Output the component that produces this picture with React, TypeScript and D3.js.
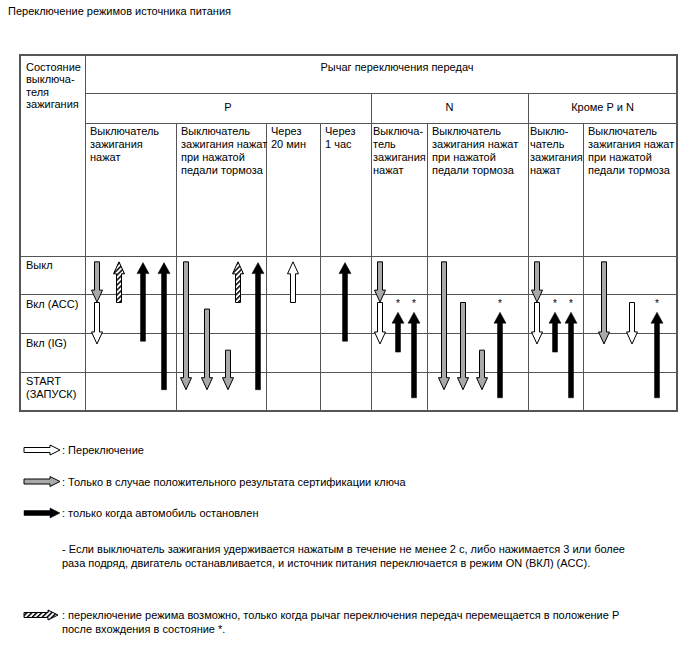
import React from "react";
import * as d3 from "d3";

const title = "Переключение режимов источника питания";
const cornerHeader = ["Состояние", "выключа-", "теля", "зажигания"];
const topHeader = "Рычаг переключения передач";
const groupHeaders = [
  { label: "Р", from: 0, to: 4 },
  { label: "N", from: 4, to: 6 },
  { label: "Кроме P и N", from: 6, to: 8 },
];
const subHeaders = [
  ["Выключатель", "зажигания", "нажат"],
  ["Выключатель", "зажигания нажат", "при нажатой", "педали тормоза"],
  ["Через", "20 мин"],
  ["Через", "1 час"],
  ["Выключа-", "тель", "зажигания", "нажат"],
  ["Выключатель", "зажигания нажат", "при нажатой", "педали тормоза"],
  ["Выклю-", "чатель", "зажигания", "нажат"],
  ["Выключатель", "зажигания нажат", "при нажатой", "педали тормоза"],
];
const rowLabels = [["Выкл"], ["Вкл (ACC)"], ["Вкл (IG)"], ["START", "(ЗАПУСК)"]];
// column widths (relative units)
const colWidths = [91, 90, 54, 51, 56, 101, 55, 94];

// arrows: col, offset within column, from (row units), to (row units), kind
type Kind = "white" | "gray" | "black" | "hatch";
const arrows: { col: number; off: number; from: number; to: number; kind: Kind; star?: boolean }[] = [
  { col: 0, off: 12, from: 0.15, to: 1.19, kind: "gray" },
  { col: 0, off: 12, from: 1.2, to: 2.27, kind: "white" },
  { col: 0, off: 34, from: 1.2, to: 0.15, kind: "hatch" },
  { col: 0, off: 58, from: 2.2, to: 0.17, kind: "black" },
  { col: 0, off: 79, from: 3.45, to: 0.17, kind: "black" },
  { col: 1, off: 10, from: 0.15, to: 3.45, kind: "gray" },
  { col: 1, off: 31, from: 1.37, to: 3.45, kind: "gray" },
  { col: 1, off: 52, from: 2.43, to: 3.45, kind: "gray" },
  { col: 1, off: 62, from: 1.2, to: 0.15, kind: "hatch" },
  { col: 1, off: 82, from: 3.45, to: 0.17, kind: "black" },
  { col: 2, off: 27, from: 1.2, to: 0.15, kind: "white" },
  { col: 3, off: 25, from: 2.2, to: 0.17, kind: "black" },
  { col: 4, off: 9, from: 0.15, to: 1.19, kind: "gray" },
  { col: 4, off: 9, from: 1.2, to: 2.27, kind: "white" },
  { col: 4, off: 27, from: 2.48, to: 1.45, kind: "black", star: true },
  { col: 4, off: 43, from: 3.66, to: 1.45, kind: "black", star: true },
  { col: 5, off: 17, from: 0.15, to: 3.45, kind: "gray" },
  { col: 5, off: 36, from: 1.2, to: 3.45, kind: "gray" },
  { col: 5, off: 55, from: 2.43, to: 3.45, kind: "gray" },
  { col: 5, off: 73, from: 3.66, to: 1.45, kind: "black", star: true },
  { col: 6, off: 9, from: 0.15, to: 1.19, kind: "gray" },
  { col: 6, off: 9, from: 1.2, to: 2.27, kind: "white" },
  { col: 6, off: 27, from: 2.48, to: 1.45, kind: "black", star: true },
  { col: 6, off: 43, from: 3.66, to: 1.45, kind: "black", star: true },
  { col: 7, off: 21, from: 0.15, to: 2.27, kind: "gray" },
  { col: 7, off: 49, from: 1.2, to: 2.27, kind: "white" },
  { col: 7, off: 74, from: 3.66, to: 1.45, kind: "black", star: true },
];

const legend: { kind: Kind; lines: string[] }[] = [
  { kind: "white", lines: [": Переключение"] },
  { kind: "gray", lines: [": Только в случае положительного результата сертификации ключа"] },
  { kind: "black", lines: [": только когда автомобиль остановлен"] },
];
const note = [
  "- Если выключатель зажигания удерживается нажатым в течение не менее 2 с, либо нажимается 3 или более",
  "раза подряд, двигатель останавливается, и источник питания переключается в режим ON (ВКЛ) (ACC).",
];
const hatchLegend = [
  ": переключение режима возможно, только когда рычаг переключения передач перемещается в положение P",
  "после вхождения в состояние *.",
];

const W = 688;
const H = 658;
const FONT = "'Liberation Sans', Arial, sans-serif";

const tableLeft = 20;
const firstColRight = 85;
const tableRight = 677;
const tableTop = 55;
const lineTop = 93;
const lineGroup = 123;
const rowsTop = 256;
const tableBottom = 411;

function colorOf(kind: Kind) {
  if (kind === "gray") return "#a9a9a9";
  if (kind === "black") return "#000";
  if (kind === "hatch") return "url(#hatch)";
  return "#fff";
}

function vArrow(x: number, y0: number, y1: number, kind: Kind) {
  const black = kind === "black";
  const sw = 5;
  const hw = black ? 12 : 11;
  const hl = black ? 11 : 12;
  const dir = Math.sign(y1 - y0);
  const hb = y1 - dir * hl;
  const pts: [number, number][] = [
    [x - sw / 2, y0],
    [x + sw / 2, y0],
    [x + sw / 2, hb],
    [x + hw / 2, hb],
    [x, y1],
    [x - hw / 2, hb],
    [x - sw / 2, hb],
  ];
  return d3.line()(pts) + "Z";
}

function hArrow(x0: number, x1: number, y: number) {
  const sh = 5;
  const hw = 10;
  const hl = 10;
  const hb = x1 - hl;
  const pts: [number, number][] = [
    [x0, y - sh / 2],
    [hb, y - sh / 2],
    [hb, y - hw / 2],
    [x1, y],
    [hb, y + hw / 2],
    [hb, y + sh / 2],
    [x0, y + sh / 2],
  ];
  return d3.line()(pts) + "Z";
}

export default function App() {
  const edges = [firstColRight];
  colWidths.forEach((w) => edges.push(edges[edges.length - 1] + w));
  const colX = (i: number) => edges[i];
  const y = d3.scaleLinear().domain([0, 4]).range([rowsTop, tableBottom]);
  const lineColor = "#555";

  return (
    <svg
      width={W}
      height={H}
      style={{ position: "absolute", left: 0, top: 0, background: "#fff" }}
      fontFamily={FONT}
    >
      <defs>
        <pattern id="hatch" patternUnits="userSpaceOnUse" width="3.5" height="3.5" patternTransform="rotate(-45)">
          <rect width="3.5" height="3.5" fill="#fff" />
          <rect width="3.5" height="1.5" fill="#000" />
        </pattern>
      </defs>
      <rect x={0} y={0} width={W} height={H} fill="#fff" />
      <text x={8} y={15} fontSize={11}>
        {title}
      </text>

      {/* table grid */}
      <g stroke={lineColor} strokeWidth={1} shapeRendering="crispEdges">
        <rect x={tableLeft} y={tableTop} width={tableRight - tableLeft} height={tableBottom - tableTop} fill="none" strokeWidth={1.5} />
        <line x1={firstColRight} x2={firstColRight} y1={tableTop} y2={tableBottom} />
        <line x1={firstColRight} x2={tableRight} y1={lineTop} y2={lineTop} />
        <line x1={firstColRight} x2={tableRight} y1={lineGroup} y2={lineGroup} />
        {groupHeaders.slice(1).map((g) => (
          <line key={g.label} x1={colX(g.from)} x2={colX(g.from)} y1={lineTop} y2={tableBottom} />
        ))}
        {edges.slice(1, -1).map((e, i) =>
          groupHeaders.some((g) => g.from === i + 1) ? null : (
            <line key={i} x1={e} x2={e} y1={lineGroup} y2={tableBottom} />
          )
        )}
        {[0, 1, 2, 3].map((r) => (
          <line key={r} x1={tableLeft} x2={tableRight} y1={y(r)} y2={y(r)} />
        ))}
      </g>

      {/* header texts */}
      <g fontSize={11} fill="#000">
        {cornerHeader.map((t, i) => (
          <text key={i} x={26} y={71 + i * 12.3}>
            {t}
          </text>
        ))}
        <text x={397} y={71} textAnchor="middle">
          {topHeader}
        </text>
        {groupHeaders.map((g) => (
          <text key={g.label} x={(colX(g.from) + colX(g.to)) / 2} y={111} textAnchor="middle">
            {g.label}
          </text>
        ))}
        {subHeaders.map((lines, c) =>
          lines.map((t, i) => (
            <text key={c + "-" + i} x={colX(c) + (c === 4 || c === 6 ? 2 : 5)} y={135 + i * 13}>
              {t}
            </text>
          ))
        )}
        {rowLabels.map((lines, r) =>
          lines.map((t, i) => (
            <text key={r + "-" + i} x={26} y={y(r) + 13 + i * 13}>
              {t}
            </text>
          ))
        )}
      </g>

      {/* arrows */}
      <g>
        {arrows.map((a, i) => {
          const x = colX(a.col) + a.off;
          return (
            <g key={i}>
              <path
                d={vArrow(x, y(a.from), y(a.to), a.kind)}
                fill={colorOf(a.kind)}
                stroke="#000"
                strokeWidth={a.kind === "black" ? 0.5 : 1}
                strokeLinejoin="miter"
              />
              {a.star && (
                <text x={x} y={y(a.to) - 5} fontSize={10} textAnchor="middle" fill="#000">
                  *
                </text>
              )}
            </g>
          );
        })}
      </g>

      {/* legend */}
      <g fontSize={11} fill="#000">
        {legend.map((l, i) => {
          const cy = 450 + i * 31.5;
          return (
            <g key={i}>
              <path d={hArrow(24, 60, cy)} fill={colorOf(l.kind)} stroke="#000" strokeWidth={l.kind === "black" ? 0.5 : 1} />
              <text x={62} y={cy + 4}>
                {l.lines[0]}
              </text>
            </g>
          );
        })}
        {note.map((t, i) => (
          <text key={i} x={62} y={553 + i * 14}>
            {t}
          </text>
        ))}
        <path d={hArrow(24, 58, 615)} fill="url(#hatch)" stroke="#000" strokeWidth={1} />
        {hatchLegend.map((t, i) => (
          <text key={i} x={62} y={619 + i * 14}>
            {t}
          </text>
        ))}
      </g>
    </svg>
  );
}
